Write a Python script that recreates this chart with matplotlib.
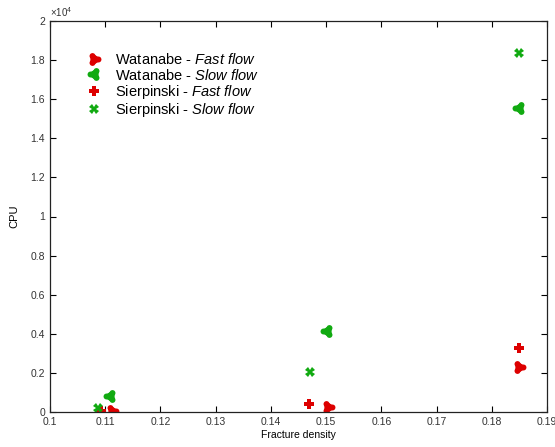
import matplotlib
matplotlib.use("Agg")
import matplotlib.pyplot as plt
from matplotlib.path import Path
import numpy as np

plt.rcParams['font.family'] = ['Liberation Sans', 'DejaVu Sans']
plt.rcParams['mathtext.fontset'] = 'custom'
plt.rcParams['mathtext.rm'] = 'Liberation Sans'
plt.rcParams['mathtext.it'] = 'Liberation Sans:italic'

# Data
wat_fast_x = [0.1112, 0.1503, 0.1850]
wat_fast_y = [50, 260, 2300]
wat_slow_x = [0.1109, 0.1501, 0.1850]
wat_slow_y = [820, 4150, 15550]
sie_fast_x = [0.1092, 0.1469, 0.1849]
sie_fast_y = [30, 410, 3270]
sie_slow_x = [0.1087, 0.1471, 0.1849]
sie_slow_y = [200, 2050, 18350]

xticks = [0.1, 0.11, 0.12, 0.13, 0.14, 0.15, 0.16, 0.17, 0.18, 0.19]
yticks = [0, 2000, 4000, 6000, 8000, 10000, 12000, 14000, 16000, 18000, 20000]

red = '#dd0000'
green = '#11aa11'


def trilobe(angles_deg):
    parts = [Path.circle((0, 0), 0.5)]
    for a in angles_deg:
        r = np.deg2rad(a)
        parts.append(Path.circle((0.48 * np.cos(r), 0.48 * np.sin(r)), 0.36))
    return Path.make_compound_path(*parts)


fast_marker = trilobe([0, 120, 240])
slow_marker = trilobe([180, 60, 300])

fig = plt.figure(figsize=(5.55, 4.47), dpi=100)
ax = fig.add_axes([50/555, 35/447, 497/555, 391/447])

ax.plot(wat_fast_x, wat_fast_y, linestyle='none', marker=fast_marker, ms=10, mew=0,
        color=red, label='Watanabe - $\\it{Fast\\ flow}$')
ax.plot(wat_slow_x, wat_slow_y, linestyle='none', marker=slow_marker, ms=10, mew=0,
        color=green, label='Watanabe - $\\it{Slow\\ flow}$')
ax.plot(sie_fast_x, sie_fast_y, linestyle='none', marker='P', ms=7, mew=0,
        color=red, label='Sierpinski - $\\it{Fast\\ flow}$')
ax.plot(sie_slow_x, sie_slow_y, linestyle='none', marker='X', ms=7, mew=0,
        color=green, label='Sierpinski - $\\it{Slow\\ flow}$')

ax.set_xlim(0.1, 0.19)
ax.set_ylim(0, 20000)
ax.set_xticks(xticks)
ax.set_xticklabels(['%g' % v for v in xticks])
ax.set_yticks(yticks)
ax.set_yticklabels(['%g' % (v / 1e4) for v in yticks])
ax.tick_params(direction='in', top=True, right=True, labelsize=7.5,
               labelcolor='#333333', length=4, width=0.8)
for s in ax.spines.values():
    s.set_linewidth(0.9)
    s.set_color('#222222')

ax.set_xlabel('Fracture density', fontsize=7.5, labelpad=2)
ax.set_ylabel('CPU', fontsize=8, labelpad=8)
ax.text(0.0, 1.005, '$\\times$10$^4$', transform=ax.transAxes, fontsize=7,
        color='#333333', ha='left', va='bottom')

leg = ax.legend(loc='upper left', bbox_to_anchor=(0.06, 0.935), frameon=False,
                fontsize=10.5, handlelength=1.2, handletextpad=0.8,
                labelspacing=0.02, borderaxespad=0)

fig.savefig('out.png', dpi=100)
